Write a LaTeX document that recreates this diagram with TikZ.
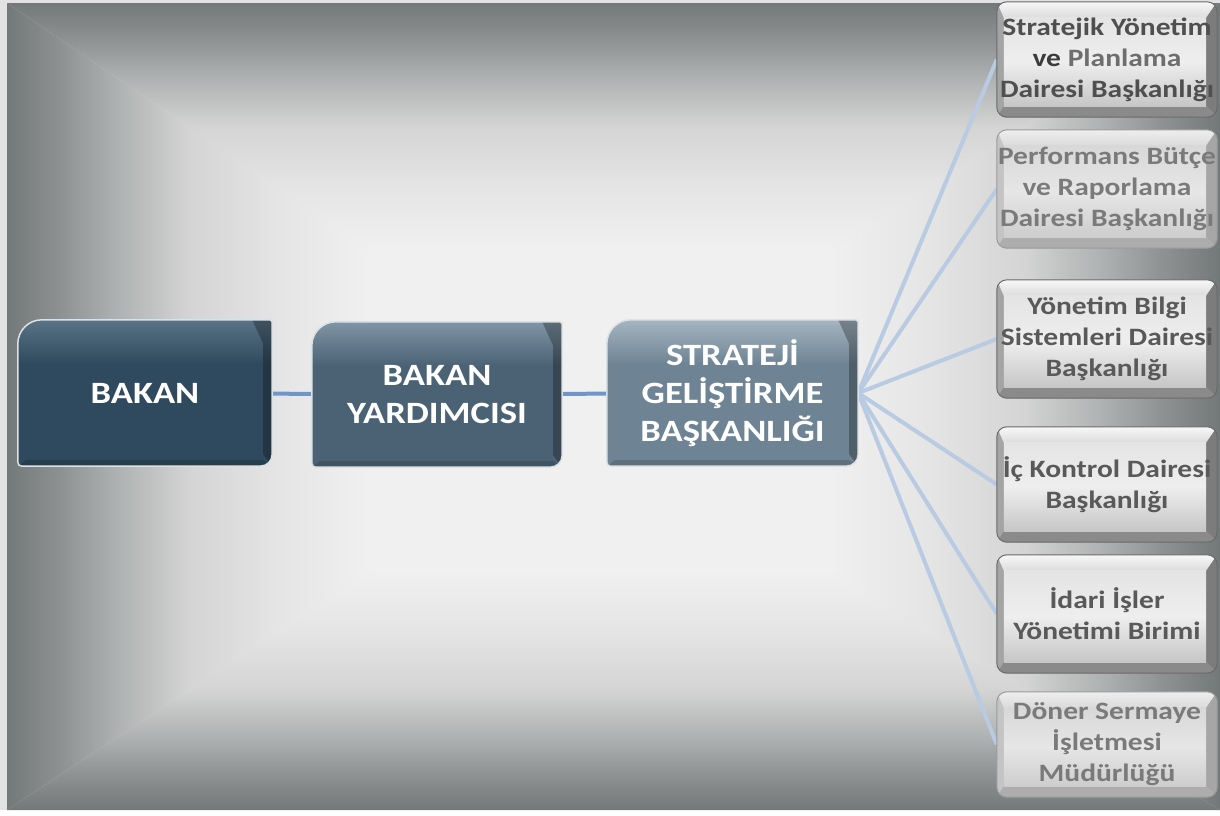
\documentclass[tikz,border=0pt]{standalone}
\usepackage{fontspec}
\setmainfont{Carlito}[FakeStretch=1.18]
\usetikzlibrary{calc}
\pgfdeclarelayer{bg}\pgfdeclarelayer{lines}\pgfdeclarelayer{boxes}
\pgfsetlayers{bg,lines,boxes,main}
\definecolor{fOut}{HTML}{737878}
\definecolor{fA}{HTML}{8F9292}
\definecolor{fB}{HTML}{AEB1B1}
\definecolor{fMid}{HTML}{D3D4D3}
\definecolor{fC}{HTML}{E4E5E4}
\definecolor{fIn}{HTML}{EFF0EF}
\definecolor{pageC}{HTML}{E2E2E2}
\definecolor{bkBase}{HTML}{2F4A5E}
\definecolor{bkTop}{HTML}{5A7386}
\definecolor{ydBase}{HTML}{4B6275}
\definecolor{ydTop}{HTML}{8095A5}
\definecolor{sgBase}{HTML}{6E8494}
\definecolor{sgTop}{HTML}{A5B5C1}
\definecolor{mbEdge}{HTML}{DDE1E4}
\definecolor{connC}{HTML}{7096C8}
\definecolor{fanC}{HTML}{B9CBE2}
% dark side boxes
\definecolor{dTopF}{HTML}{F7F7F7}
\definecolor{dTopF2}{HTML}{DCDCDC}
\definecolor{dLeftF}{HTML}{A4A4A4}
\definecolor{dRightF}{HTML}{7C7C7C}
\definecolor{dBotF}{HTML}{8A8A8A}
\definecolor{dFaceT}{HTML}{E4E4E4}
\definecolor{dFaceB}{HTML}{C6C6C6}
\definecolor{dFaceC}{HTML}{EEEEEE}
\definecolor{dEdge}{HTML}{6A6A6A}
% light side boxes
\definecolor{lTopF}{HTML}{EEEEEE}
\definecolor{lTopF2}{HTML}{DADADA}
\definecolor{lLeftF}{HTML}{C4C4C4}
\definecolor{lRightF}{HTML}{A6A6A6}
\definecolor{lBotF}{HTML}{ADADAD}
\definecolor{lFaceT}{HTML}{D8D8D8}
\definecolor{lFaceB}{HTML}{CDCDCD}
\definecolor{lFaceC}{HTML}{E6E6E6}
\definecolor{lEdge}{HTML}{9A9A9A}
\definecolor{tOne}{HTML}{4F4F4F}
\definecolor{tVe}{HTML}{3C3C3C}
\definecolor{tPl}{HTML}{6E6E6E}
\definecolor{tLight}{HTML}{7A7A7A}
\definecolor{tMid}{HTML}{595959}
\pgfdeclareverticalshading{framesh}{100bp}{color(0bp)=(fIn); color(25bp)=(fIn); color(37.5bp)=(fC); color(50bp)=(fMid); color(60bp)=(fB); color(67.5bp)=(fA); color(75bp)=(fOut); color(100bp)=(fOut)}
\tikzset{
  mainbox/.style={shape=rectangle, inner sep=0pt, align=center, text=white,
    font=\fontsize{31}{38}\selectfont\bfseries},
  sidebox/.style={shape=rectangle, inner sep=0pt, align=center, minimum width=220pt,
    font=\fontsize{25}{31}\selectfont\bfseries},
  conn/.style={line width=4pt, draw=connC},
  fan/.style={line width=4pt, draw=fanC},
  mshape/.style={insert path={($(#1.north west)+(0pt,-24pt)$) arc[start angle=180,end angle=90,radius=24pt]
     -- ($(#1.north east)+(-2pt,0pt)$) -- ($(#1.north east)+(0pt,-2pt)$)
     -- ($(#1.south east)+(0pt,12pt)$) arc[start angle=0,end angle=-90,radius=12pt]
     -- ($(#1.south west)+(4pt,0pt)$) arc[start angle=270,end angle=180,radius=4pt] -- cycle}},
  sshape/.style={insert path={[rounded corners=10pt] (#1.north west) rectangle (#1.south east)}}
}
\newcommand\drawmain[3]{%
  \path[fill=#2, mshape=#1];
  \begin{scope}
    \clip[mshape=#1];
    \shade[top color=#3, bottom color=#2] (#1.north west) rectangle ($(#1.north east)+(0pt,-44pt)$);
    \fill[black, opacity=.28] (#1.north east) -- ++(-20pt,0pt) -- ($(#1.north east)+(-9pt,-24pt)$)
      -- ($(#1.south east)+(-9pt,12pt)$) -- (#1.south east) -- cycle;
    \fill[black, opacity=.15] (#1.south west) -- ($(#1.south west)+(8pt,6pt)$)
      -- ($(#1.south east)+(-9pt,6pt)$) -- (#1.south east) -- cycle;
  \end{scope}
  \path[draw=mbEdge, line width=1.5pt, mshape=#1];
}
% #1 name, #2 prefix d or l
\newcommand\drawside[2]{%
  \path[fill=#2LeftF, sshape=#1];
  \begin{scope}
    \clip[sshape=#1];
    \coordinate (fNW) at ($(#1.north west)+(7pt,-16pt)$);
    \coordinate (fNE) at ($(#1.north east)+(-11pt,-16pt)$);
    \coordinate (fSE) at ($(#1.south east)+(-11pt,11pt)$);
    \coordinate (fSW) at ($(#1.south west)+(7pt,11pt)$);
    \shade[top color=#2TopF, bottom color=#2TopF2] (#1.north west) -- (#1.north east) -- (fNE) -- (fNW) -- cycle;
    \fill[#2RightF] (#1.north east) -- (#1.south east) -- (fSE) -- (fNE) -- cycle;
    \fill[#2BotF] (#1.south east) -- (#1.south west) -- (fSW) -- (fSE) -- cycle;
    \shade[top color=#2FaceT, bottom color=#2FaceB, middle color=#2FaceC] (fNW) rectangle (fSE);
  \end{scope}
  \path[draw=#2Edge, line width=1pt, sshape=#1];
}
\begin{document}
\begin{tikzpicture}[x=1pt,y=1pt]
\useasboundingbox (0,0) rectangle (1220,-815);
\begin{pgfonlayer}{bg}
  \fill[white] (0,0) rectangle (1220,-815);
  \fill[pageC] (0,0) rectangle (1220,-810);
  \shade[shading=framesh] (7,-3) -- (1220,-3) -- (830,-250) -- (370,-250) -- cycle;
  \shade[shading=framesh, shading angle=180] (7,-810) -- (1220,-810) -- (830,-570) -- (370,-570) -- cycle;
  \shade[shading=framesh, shading angle=90] (7,-3) -- (370,-250) -- (370,-570) -- (7,-810) -- cycle;
  \shade[shading=framesh, shading angle=-90] (1220,-3) -- (830,-250) -- (830,-570) -- (1220,-810) -- cycle;
  \fill[fIn] (370,-250) rectangle (830,-570);
\end{pgfonlayer}

\node[mainbox, minimum width=254pt, minimum height=146pt] (bakan) at (145,-393) {BAKAN};
\node[mainbox, minimum width=250pt, minimum height=145pt] (yard) at (437,-394.5) {BAKAN\\YARDIMCISI};
\node[mainbox, minimum width=251pt, minimum height=146pt] (sgb) at (732.5,-393) {STRATEJİ\\GELİŞTİRME\\BAŞKANLIĞI};

\node[sidebox, minimum height=115pt, text=tOne] (r1) at (1107,-59.5)
  {Stratejik Yönetim\\{\color{tVe}ve} {\color{tPl}Planlama}\\Dairesi Başkanlığı};
\node[sidebox, minimum height=118pt, text=tLight] (r2) at (1107,-189) {Performans Bütçe\\ve Raporlama\\Dairesi Başkanlığı};
\node[sidebox, minimum height=118pt, text=tMid] (r3) at (1107,-339) {Yönetim Bilgi\\Sistemleri Dairesi\\Başkanlığı};
\node[sidebox, minimum height=115pt, text=tMid] (r4) at (1107,-484.5) {İç Kontrol Dairesi\\Başkanlığı};
\node[sidebox, minimum height=118pt, text=tMid] (r5) at (1107,-614) {İdari İşler\\Yönetimi Birimi};
\node[sidebox, minimum height=105pt, text=tLight] (r6) at (1107,-744.5) {Döner Sermaye\\İşletmesi\\Müdürlüğü};

\begin{pgfonlayer}{lines}
  \draw[conn] (bakan) -- (yard);
  \draw[conn] (yard) -- (sgb);
  \foreach \r in {r1,r2,r3,r4,r5,r6} {\draw[fan] (sgb.east) -- (\r.west);}
\end{pgfonlayer}

\begin{pgfonlayer}{boxes}
  \drawmain{bakan}{bkBase}{bkTop}
  \drawmain{yard}{ydBase}{ydTop}
  \drawmain{sgb}{sgBase}{sgTop}
  \drawside{r1}{d}
  \drawside{r2}{l}
  \drawside{r3}{d}
  \drawside{r4}{d}
  \drawside{r5}{d}
  \drawside{r6}{l}
\end{pgfonlayer}
\end{tikzpicture}
\end{document}
